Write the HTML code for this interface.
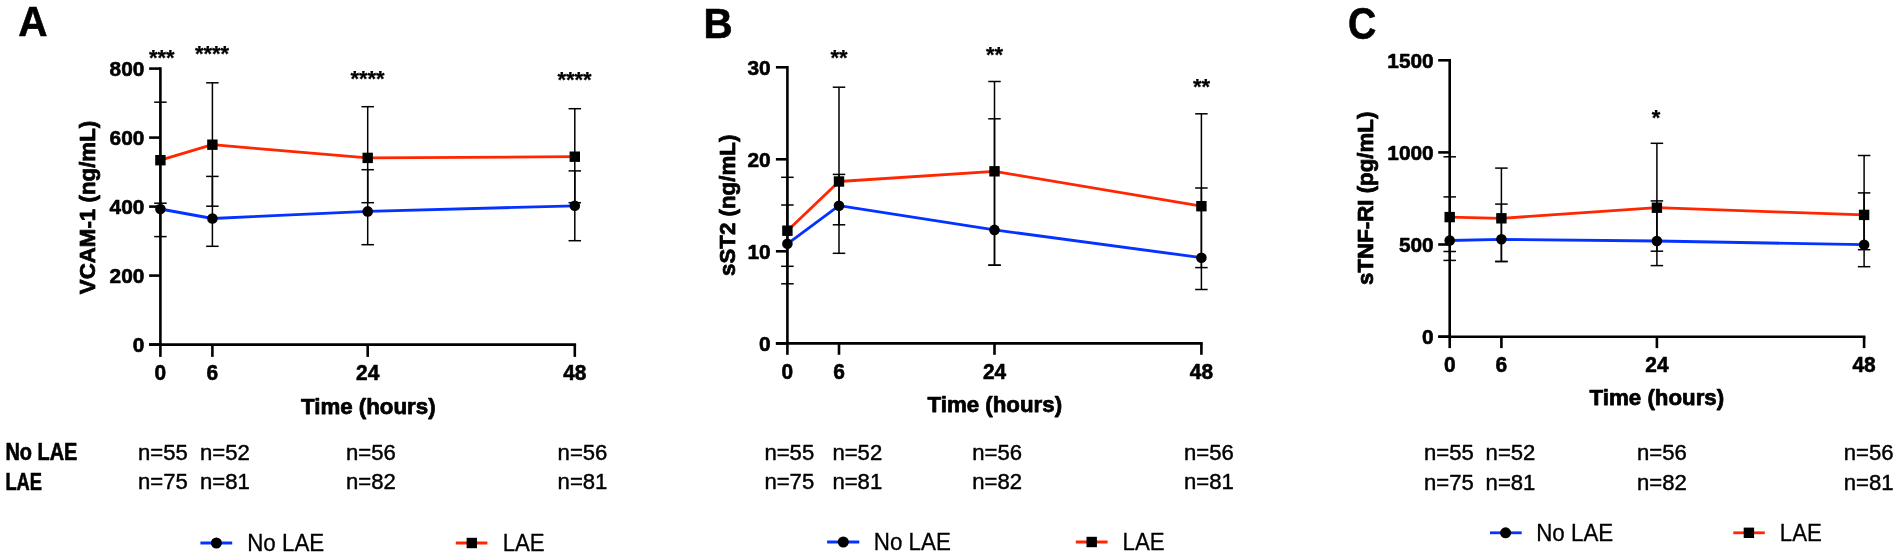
<!DOCTYPE html>
<html lang="en"><head><meta charset="utf-8"><title>Figure</title>
<style>
html,body{margin:0;padding:0;background:#fff;}
body{width:1900px;height:555px;overflow:hidden;}
svg{display:block;filter:blur(0.4px);}
text{font-family:"Liberation Sans",Arial,Helvetica,sans-serif;fill:#000;}
.b{font-weight:bold;}
.tk,.pl,.rl{stroke:#000;stroke-width:0.6px;stroke-linejoin:round;}
.tt{stroke:#000;stroke-width:0.75px;stroke-linejoin:round;}
.st{stroke:#000;stroke-width:0.25px;}
.n{stroke:#000;stroke-width:0.45px;stroke-linejoin:round;}
.lg{stroke:#000;stroke-width:0.3px;stroke-linejoin:round;}
.tk{font-weight:bold;font-size:20.8px;}
.tt{font-weight:bold;font-size:22.3px;}
.st{font-weight:bold;font-size:22px;}
.pl{font-weight:bold;font-size:42px;}
.n{font-size:22.5px;}
.rl{font-weight:bold;font-size:23px;}
.lg{font-size:23px;}
</style></head><body>
<svg width="1900" height="555" viewBox="0 0 1900 555">
<rect x="0" y="0" width="1900" height="555" fill="#fff"/>
<g>
<text class="pl" x="18.2" y="36.3" style="font-size:42px" textLength="29.3" lengthAdjust="spacingAndGlyphs">A</text>
<line x1="160.4" y1="102.2" x2="160.4" y2="203.2" stroke="#000" stroke-width="1.5"/>
<line x1="154.15" y1="102.2" x2="166.65" y2="102.2" stroke="#000" stroke-width="1.5"/>
<line x1="154.15" y1="203.2" x2="166.65" y2="203.2" stroke="#000" stroke-width="1.5"/>
<line x1="160.4" y1="209" x2="160.4" y2="236.6" stroke="#000" stroke-width="1.5"/>
<line x1="154.15" y1="236.6" x2="166.65" y2="236.6" stroke="#000" stroke-width="1.5"/>
<line x1="212.4" y1="82.8" x2="212.4" y2="206.2" stroke="#000" stroke-width="1.5"/>
<line x1="206.15" y1="82.8" x2="218.65" y2="82.8" stroke="#000" stroke-width="1.5"/>
<line x1="206.15" y1="206.2" x2="218.65" y2="206.2" stroke="#000" stroke-width="1.5"/>
<line x1="212.4" y1="176.4" x2="212.4" y2="246.3" stroke="#000" stroke-width="1.5"/>
<line x1="206.15" y1="176.4" x2="218.65" y2="176.4" stroke="#000" stroke-width="1.5"/>
<line x1="206.15" y1="246.3" x2="218.65" y2="246.3" stroke="#000" stroke-width="1.5"/>
<line x1="367.7" y1="106.7" x2="367.7" y2="202.7" stroke="#000" stroke-width="1.5"/>
<line x1="361.45" y1="106.7" x2="373.95" y2="106.7" stroke="#000" stroke-width="1.5"/>
<line x1="361.45" y1="202.7" x2="373.95" y2="202.7" stroke="#000" stroke-width="1.5"/>
<line x1="367.7" y1="169.7" x2="367.7" y2="244.7" stroke="#000" stroke-width="1.5"/>
<line x1="361.45" y1="169.7" x2="373.95" y2="169.7" stroke="#000" stroke-width="1.5"/>
<line x1="361.45" y1="244.7" x2="373.95" y2="244.7" stroke="#000" stroke-width="1.5"/>
<line x1="574.8" y1="108.7" x2="574.8" y2="202.7" stroke="#000" stroke-width="1.5"/>
<line x1="568.55" y1="108.7" x2="581.05" y2="108.7" stroke="#000" stroke-width="1.5"/>
<line x1="568.55" y1="202.7" x2="581.05" y2="202.7" stroke="#000" stroke-width="1.5"/>
<line x1="574.8" y1="170.9" x2="574.8" y2="240.7" stroke="#000" stroke-width="1.5"/>
<line x1="568.55" y1="170.9" x2="581.05" y2="170.9" stroke="#000" stroke-width="1.5"/>
<line x1="568.55" y1="240.7" x2="581.05" y2="240.7" stroke="#000" stroke-width="1.5"/>
<line x1="160.4" y1="67.3" x2="160.4" y2="344.6" stroke="#000" stroke-width="2.6"/>
<line x1="149.1" y1="344.6" x2="576.1" y2="344.6" stroke="#000" stroke-width="2.6"/>
<line x1="149.1" y1="68.6" x2="160.4" y2="68.6" stroke="#000" stroke-width="2.6"/>
<text class="tk" text-anchor="end" x="144.3" y="75.8">800</text>
<line x1="149.1" y1="137.6" x2="160.4" y2="137.6" stroke="#000" stroke-width="2.6"/>
<text class="tk" text-anchor="end" x="144.3" y="144.8">600</text>
<line x1="149.1" y1="206.6" x2="160.4" y2="206.6" stroke="#000" stroke-width="2.6"/>
<text class="tk" text-anchor="end" x="144.3" y="213.8">400</text>
<line x1="149.1" y1="275.6" x2="160.4" y2="275.6" stroke="#000" stroke-width="2.6"/>
<text class="tk" text-anchor="end" x="144.3" y="282.8">200</text>
<line x1="149.1" y1="344.6" x2="160.4" y2="344.6" stroke="#000" stroke-width="2.6"/>
<text class="tk" text-anchor="end" x="144.3" y="351.8">0</text>
<line x1="160.4" y1="344.6" x2="160.4" y2="356.9" stroke="#000" stroke-width="2.6"/>
<text class="tk" text-anchor="middle" style="font-size:22px" transform="translate(160.4 380.2) scale(0.95 1)">0</text>
<line x1="212.4" y1="344.6" x2="212.4" y2="356.9" stroke="#000" stroke-width="2.6"/>
<text class="tk" text-anchor="middle" style="font-size:22px" transform="translate(212.4 380.2) scale(0.95 1)">6</text>
<line x1="367.7" y1="344.6" x2="367.7" y2="356.9" stroke="#000" stroke-width="2.6"/>
<text class="tk" text-anchor="middle" style="font-size:22px" transform="translate(367.7 380.2) scale(0.95 1)">24</text>
<line x1="574.8" y1="344.6" x2="574.8" y2="356.9" stroke="#000" stroke-width="2.6"/>
<text class="tk" text-anchor="middle" style="font-size:22px" transform="translate(574.8 380.2) scale(0.95 1)">48</text>
<polyline points="160.4,209 212.4,218.5 367.7,211.4 574.8,205.8" fill="none" stroke="#0433ff" stroke-width="2.8" stroke-linejoin="round"/>
<polyline points="160.4,160.2 212.4,144.7 367.7,157.9 574.8,156.7" fill="none" stroke="#ff2600" stroke-width="2.8" stroke-linejoin="round"/>
<circle cx="160.4" cy="209" r="5.3" fill="#000"/>
<rect x="155.2" y="155" width="10.4" height="10.4" fill="#000"/>
<circle cx="212.4" cy="218.5" r="5.3" fill="#000"/>
<rect x="207.2" y="139.5" width="10.4" height="10.4" fill="#000"/>
<circle cx="367.7" cy="211.4" r="5.3" fill="#000"/>
<rect x="362.5" y="152.7" width="10.4" height="10.4" fill="#000"/>
<circle cx="574.8" cy="205.8" r="5.3" fill="#000"/>
<rect x="569.6" y="151.5" width="10.4" height="10.4" fill="#000"/>
<text class="st" text-anchor="middle" x="161.8" y="64.7">***</text>
<text class="st" text-anchor="middle" x="212" y="60.7">****</text>
<text class="st" text-anchor="middle" x="367.5" y="85.7">****</text>
<text class="st" text-anchor="middle" x="574.5" y="87.4">****</text>
<text class="tt" text-anchor="middle" transform="translate(95.2 207.5) rotate(-90)">VCAM-1 (ng/mL)</text>
<text class="tt" text-anchor="middle" x="368.3" y="414">Time (hours)</text>
<text class="n" x="138" y="459.9" textLength="49.8" lengthAdjust="spacingAndGlyphs">n=55</text>
<text class="n" x="200" y="459.9" textLength="49.8" lengthAdjust="spacingAndGlyphs">n=52</text>
<text class="n" x="346" y="459.9" textLength="49.8" lengthAdjust="spacingAndGlyphs">n=56</text>
<text class="n" x="557.6" y="459.9" textLength="49.8" lengthAdjust="spacingAndGlyphs">n=56</text>
<text class="n" x="138" y="489.4" textLength="49.8" lengthAdjust="spacingAndGlyphs">n=75</text>
<text class="n" x="200" y="489.4" textLength="49.8" lengthAdjust="spacingAndGlyphs">n=81</text>
<text class="n" x="346" y="489.4" textLength="49.8" lengthAdjust="spacingAndGlyphs">n=82</text>
<text class="n" x="557.6" y="489.4" textLength="49.8" lengthAdjust="spacingAndGlyphs">n=81</text>
<text class="rl" x="5.4" y="460" textLength="72" lengthAdjust="spacingAndGlyphs">No LAE</text>
<text class="rl" x="5.4" y="489.8" textLength="36.6" lengthAdjust="spacingAndGlyphs">LAE</text>
<line x1="200.4" y1="543" x2="232.2" y2="543" stroke="#0433ff" stroke-width="2.8"/>
<circle cx="216.4" cy="543" r="5.5" fill="#000"/>
<text class="lg" x="247.2" y="550.9" textLength="77" lengthAdjust="spacingAndGlyphs">No LAE</text>
<line x1="455.8" y1="543" x2="487.4" y2="543" stroke="#ff2600" stroke-width="2.8"/>
<rect x="466.6" y="537.8" width="10.4" height="10.4" fill="#000"/>
<text class="lg" x="502.7" y="550.9" textLength="42" lengthAdjust="spacingAndGlyphs">LAE</text>
</g>
<g>
<text class="pl" x="703.6" y="38.4" style="font-size:42px" textLength="29.1" lengthAdjust="spacingAndGlyphs">B</text>
<line x1="787.4" y1="177.3" x2="787.4" y2="266.3" stroke="#000" stroke-width="1.5"/>
<line x1="781.15" y1="177.3" x2="793.65" y2="177.3" stroke="#000" stroke-width="1.5"/>
<line x1="781.15" y1="266.3" x2="793.65" y2="266.3" stroke="#000" stroke-width="1.5"/>
<line x1="787.4" y1="205" x2="787.4" y2="283.8" stroke="#000" stroke-width="1.5"/>
<line x1="781.15" y1="205" x2="793.65" y2="205" stroke="#000" stroke-width="1.5"/>
<line x1="781.15" y1="283.8" x2="793.65" y2="283.8" stroke="#000" stroke-width="1.5"/>
<line x1="839" y1="87.2" x2="839" y2="224.8" stroke="#000" stroke-width="1.5"/>
<line x1="832.75" y1="87.2" x2="845.25" y2="87.2" stroke="#000" stroke-width="1.5"/>
<line x1="832.75" y1="224.8" x2="845.25" y2="224.8" stroke="#000" stroke-width="1.5"/>
<line x1="839" y1="174.4" x2="839" y2="253.3" stroke="#000" stroke-width="1.5"/>
<line x1="832.75" y1="174.4" x2="845.25" y2="174.4" stroke="#000" stroke-width="1.5"/>
<line x1="832.75" y1="253.3" x2="845.25" y2="253.3" stroke="#000" stroke-width="1.5"/>
<line x1="994.5" y1="81.5" x2="994.5" y2="265.2" stroke="#000" stroke-width="1.5"/>
<line x1="988.25" y1="81.5" x2="1000.75" y2="81.5" stroke="#000" stroke-width="1.5"/>
<line x1="988.25" y1="265.2" x2="1000.75" y2="265.2" stroke="#000" stroke-width="1.5"/>
<line x1="994.5" y1="118.8" x2="994.5" y2="265.2" stroke="#000" stroke-width="1.5"/>
<line x1="988.25" y1="118.8" x2="1000.75" y2="118.8" stroke="#000" stroke-width="1.5"/>
<line x1="988.25" y1="265.2" x2="1000.75" y2="265.2" stroke="#000" stroke-width="1.5"/>
<line x1="1201.4" y1="113.8" x2="1201.4" y2="267.6" stroke="#000" stroke-width="1.5"/>
<line x1="1195.15" y1="113.8" x2="1207.65" y2="113.8" stroke="#000" stroke-width="1.5"/>
<line x1="1195.15" y1="267.6" x2="1207.65" y2="267.6" stroke="#000" stroke-width="1.5"/>
<line x1="1201.4" y1="188" x2="1201.4" y2="289.5" stroke="#000" stroke-width="1.5"/>
<line x1="1195.15" y1="188" x2="1207.65" y2="188" stroke="#000" stroke-width="1.5"/>
<line x1="1195.15" y1="289.5" x2="1207.65" y2="289.5" stroke="#000" stroke-width="1.5"/>
<line x1="787.4" y1="66" x2="787.4" y2="343.4" stroke="#000" stroke-width="2.6"/>
<line x1="775.9" y1="343.4" x2="1202.7" y2="343.4" stroke="#000" stroke-width="2.6"/>
<line x1="775.9" y1="67.3" x2="787.4" y2="67.3" stroke="#000" stroke-width="2.6"/>
<text class="tk" text-anchor="end" x="770.6" y="74.5">30</text>
<line x1="775.9" y1="159.3" x2="787.4" y2="159.3" stroke="#000" stroke-width="2.6"/>
<text class="tk" text-anchor="end" x="770.6" y="166.5">20</text>
<line x1="775.9" y1="251.3" x2="787.4" y2="251.3" stroke="#000" stroke-width="2.6"/>
<text class="tk" text-anchor="end" x="770.6" y="258.5">10</text>
<line x1="775.9" y1="343.4" x2="787.4" y2="343.4" stroke="#000" stroke-width="2.6"/>
<text class="tk" text-anchor="end" x="770.6" y="350.6">0</text>
<line x1="787.4" y1="343.4" x2="787.4" y2="354.8" stroke="#000" stroke-width="2.6"/>
<text class="tk" text-anchor="middle" style="font-size:22px" transform="translate(787.4 379.2) scale(0.95 1)">0</text>
<line x1="839" y1="343.4" x2="839" y2="354.8" stroke="#000" stroke-width="2.6"/>
<text class="tk" text-anchor="middle" style="font-size:22px" transform="translate(839 379.2) scale(0.95 1)">6</text>
<line x1="994.5" y1="343.4" x2="994.5" y2="354.8" stroke="#000" stroke-width="2.6"/>
<text class="tk" text-anchor="middle" style="font-size:22px" transform="translate(994.5 379.2) scale(0.95 1)">24</text>
<line x1="1201.4" y1="343.4" x2="1201.4" y2="354.8" stroke="#000" stroke-width="2.6"/>
<text class="tk" text-anchor="middle" style="font-size:22px" transform="translate(1201.4 379.2) scale(0.95 1)">48</text>
<polyline points="787.4,243.8 839,205.7 994.5,229.9 1201.4,257.7" fill="none" stroke="#0433ff" stroke-width="2.8" stroke-linejoin="round"/>
<polyline points="787.4,230.7 839,181.5 994.5,171.3 1201.4,206.2" fill="none" stroke="#ff2600" stroke-width="2.8" stroke-linejoin="round"/>
<circle cx="787.4" cy="243.8" r="5.3" fill="#000"/>
<rect x="782.2" y="225.5" width="10.4" height="10.4" fill="#000"/>
<circle cx="839" cy="205.7" r="5.3" fill="#000"/>
<rect x="833.8" y="176.3" width="10.4" height="10.4" fill="#000"/>
<circle cx="994.5" cy="229.9" r="5.3" fill="#000"/>
<rect x="989.3" y="166.1" width="10.4" height="10.4" fill="#000"/>
<circle cx="1201.4" cy="257.7" r="5.3" fill="#000"/>
<rect x="1196.2" y="201" width="10.4" height="10.4" fill="#000"/>
<text class="st" text-anchor="middle" x="839" y="64.8">**</text>
<text class="st" text-anchor="middle" x="994.5" y="62.3">**</text>
<text class="st" text-anchor="middle" x="1201.5" y="93.8">**</text>
<text class="tt" text-anchor="middle" transform="translate(735.2 205.3) rotate(-90)">sST2 (ng/mL)</text>
<text class="tt" text-anchor="middle" x="994.8" y="411.5">Time (hours)</text>
<text class="n" x="764.4" y="459.9" textLength="49.8" lengthAdjust="spacingAndGlyphs">n=55</text>
<text class="n" x="832.4" y="459.9" textLength="49.8" lengthAdjust="spacingAndGlyphs">n=52</text>
<text class="n" x="972.2" y="459.9" textLength="49.8" lengthAdjust="spacingAndGlyphs">n=56</text>
<text class="n" x="1184" y="459.9" textLength="49.8" lengthAdjust="spacingAndGlyphs">n=56</text>
<text class="n" x="764.4" y="489.4" textLength="49.8" lengthAdjust="spacingAndGlyphs">n=75</text>
<text class="n" x="832.4" y="489.4" textLength="49.8" lengthAdjust="spacingAndGlyphs">n=81</text>
<text class="n" x="972.2" y="489.4" textLength="49.8" lengthAdjust="spacingAndGlyphs">n=82</text>
<text class="n" x="1184" y="489.4" textLength="49.8" lengthAdjust="spacingAndGlyphs">n=81</text>
<line x1="827.1" y1="542" x2="859.3" y2="542" stroke="#0433ff" stroke-width="2.8"/>
<circle cx="843.3" cy="542" r="5.5" fill="#000"/>
<text class="lg" x="873.8" y="550" textLength="77" lengthAdjust="spacingAndGlyphs">No LAE</text>
<line x1="1075.8" y1="542" x2="1107.6" y2="542" stroke="#ff2600" stroke-width="2.8"/>
<rect x="1086.5" y="536.8" width="10.4" height="10.4" fill="#000"/>
<text class="lg" x="1122.6" y="550" textLength="42" lengthAdjust="spacingAndGlyphs">LAE</text>
</g>
<g>
<text class="pl" x="1347.9" y="38.9" style="font-size:43.5px" textLength="28.3" lengthAdjust="spacingAndGlyphs">C</text>
<line x1="1449.7" y1="156.8" x2="1449.7" y2="260.4" stroke="#000" stroke-width="1.5"/>
<line x1="1443.45" y1="156.8" x2="1455.95" y2="156.8" stroke="#000" stroke-width="1.5"/>
<line x1="1443.45" y1="260.4" x2="1455.95" y2="260.4" stroke="#000" stroke-width="1.5"/>
<line x1="1449.7" y1="196.9" x2="1449.7" y2="251.5" stroke="#000" stroke-width="1.5"/>
<line x1="1443.45" y1="196.9" x2="1455.95" y2="196.9" stroke="#000" stroke-width="1.5"/>
<line x1="1443.45" y1="251.5" x2="1455.95" y2="251.5" stroke="#000" stroke-width="1.5"/>
<line x1="1501.4" y1="168.1" x2="1501.4" y2="261.5" stroke="#000" stroke-width="1.5"/>
<line x1="1495.15" y1="168.1" x2="1507.65" y2="168.1" stroke="#000" stroke-width="1.5"/>
<line x1="1495.15" y1="261.5" x2="1507.65" y2="261.5" stroke="#000" stroke-width="1.5"/>
<line x1="1501.4" y1="204.1" x2="1501.4" y2="261.5" stroke="#000" stroke-width="1.5"/>
<line x1="1495.15" y1="204.1" x2="1507.65" y2="204.1" stroke="#000" stroke-width="1.5"/>
<line x1="1495.15" y1="261.5" x2="1507.65" y2="261.5" stroke="#000" stroke-width="1.5"/>
<line x1="1656.9" y1="143.3" x2="1656.9" y2="265.6" stroke="#000" stroke-width="1.5"/>
<line x1="1650.65" y1="143.3" x2="1663.15" y2="143.3" stroke="#000" stroke-width="1.5"/>
<line x1="1650.65" y1="265.6" x2="1663.15" y2="265.6" stroke="#000" stroke-width="1.5"/>
<line x1="1656.9" y1="200.9" x2="1656.9" y2="251.2" stroke="#000" stroke-width="1.5"/>
<line x1="1650.65" y1="200.9" x2="1663.15" y2="200.9" stroke="#000" stroke-width="1.5"/>
<line x1="1650.65" y1="251.2" x2="1663.15" y2="251.2" stroke="#000" stroke-width="1.5"/>
<line x1="1864.1" y1="155.5" x2="1864.1" y2="266.7" stroke="#000" stroke-width="1.5"/>
<line x1="1857.85" y1="155.5" x2="1870.35" y2="155.5" stroke="#000" stroke-width="1.5"/>
<line x1="1857.85" y1="266.7" x2="1870.35" y2="266.7" stroke="#000" stroke-width="1.5"/>
<line x1="1864.1" y1="192.9" x2="1864.1" y2="249.7" stroke="#000" stroke-width="1.5"/>
<line x1="1857.85" y1="192.9" x2="1870.35" y2="192.9" stroke="#000" stroke-width="1.5"/>
<line x1="1857.85" y1="249.7" x2="1870.35" y2="249.7" stroke="#000" stroke-width="1.5"/>
<line x1="1449.7" y1="59" x2="1449.7" y2="336.7" stroke="#000" stroke-width="2.6"/>
<line x1="1438.2" y1="336.7" x2="1865.4" y2="336.7" stroke="#000" stroke-width="2.6"/>
<line x1="1438.2" y1="60.3" x2="1449.7" y2="60.3" stroke="#000" stroke-width="2.6"/>
<text class="tk" text-anchor="end" x="1433.6" y="67.5">1500</text>
<line x1="1438.2" y1="152.4" x2="1449.7" y2="152.4" stroke="#000" stroke-width="2.6"/>
<text class="tk" text-anchor="end" x="1433.6" y="159.6">1000</text>
<line x1="1438.2" y1="244.5" x2="1449.7" y2="244.5" stroke="#000" stroke-width="2.6"/>
<text class="tk" text-anchor="end" x="1433.6" y="251.7">500</text>
<line x1="1438.2" y1="336.7" x2="1449.7" y2="336.7" stroke="#000" stroke-width="2.6"/>
<text class="tk" text-anchor="end" x="1433.6" y="343.9">0</text>
<line x1="1449.7" y1="336.7" x2="1449.7" y2="348.1" stroke="#000" stroke-width="2.6"/>
<text class="tk" text-anchor="middle" style="font-size:22px" transform="translate(1449.7 371.8) scale(0.95 1)">0</text>
<line x1="1501.4" y1="336.7" x2="1501.4" y2="348.1" stroke="#000" stroke-width="2.6"/>
<text class="tk" text-anchor="middle" style="font-size:22px" transform="translate(1501.4 371.8) scale(0.95 1)">6</text>
<line x1="1656.9" y1="336.7" x2="1656.9" y2="348.1" stroke="#000" stroke-width="2.6"/>
<text class="tk" text-anchor="middle" style="font-size:22px" transform="translate(1656.9 371.8) scale(0.95 1)">24</text>
<line x1="1864.1" y1="336.7" x2="1864.1" y2="348.1" stroke="#000" stroke-width="2.6"/>
<text class="tk" text-anchor="middle" style="font-size:22px" transform="translate(1864.1 371.8) scale(0.95 1)">48</text>
<polyline points="1449.7,240.5 1501.4,239.3 1656.9,241 1864.1,244.7" fill="none" stroke="#0433ff" stroke-width="2.8" stroke-linejoin="round"/>
<polyline points="1449.7,217.1 1501.4,218.3 1656.9,207.7 1864.1,214.9" fill="none" stroke="#ff2600" stroke-width="2.8" stroke-linejoin="round"/>
<circle cx="1449.7" cy="240.5" r="5.3" fill="#000"/>
<rect x="1444.5" y="211.9" width="10.4" height="10.4" fill="#000"/>
<circle cx="1501.4" cy="239.3" r="5.3" fill="#000"/>
<rect x="1496.2" y="213.1" width="10.4" height="10.4" fill="#000"/>
<circle cx="1656.9" cy="241" r="5.3" fill="#000"/>
<rect x="1651.7" y="202.5" width="10.4" height="10.4" fill="#000"/>
<circle cx="1864.1" cy="244.7" r="5.3" fill="#000"/>
<rect x="1858.9" y="209.7" width="10.4" height="10.4" fill="#000"/>
<text class="st" text-anchor="middle" x="1656.1" y="124.9">*</text>
<text class="tt" text-anchor="middle" transform="translate(1373 198.3) rotate(-90)">sTNF-RI (pg/mL)</text>
<text class="tt" text-anchor="middle" x="1656.9" y="405.4">Time (hours)</text>
<text class="n" x="1424" y="460" textLength="49.8" lengthAdjust="spacingAndGlyphs">n=55</text>
<text class="n" x="1485.6" y="460" textLength="49.8" lengthAdjust="spacingAndGlyphs">n=52</text>
<text class="n" x="1637" y="460" textLength="49.8" lengthAdjust="spacingAndGlyphs">n=56</text>
<text class="n" x="1843.8" y="460" textLength="49.8" lengthAdjust="spacingAndGlyphs">n=56</text>
<text class="n" x="1424" y="490" textLength="49.8" lengthAdjust="spacingAndGlyphs">n=75</text>
<text class="n" x="1485.6" y="490" textLength="49.8" lengthAdjust="spacingAndGlyphs">n=81</text>
<text class="n" x="1637" y="490" textLength="49.8" lengthAdjust="spacingAndGlyphs">n=82</text>
<text class="n" x="1843.8" y="490" textLength="49.8" lengthAdjust="spacingAndGlyphs">n=81</text>
<line x1="1490" y1="532.8" x2="1521.7" y2="532.8" stroke="#0433ff" stroke-width="2.8"/>
<circle cx="1505.6" cy="532.8" r="5.5" fill="#000"/>
<text class="lg" x="1536.2" y="540.8" textLength="77" lengthAdjust="spacingAndGlyphs">No LAE</text>
<line x1="1733.3" y1="532.8" x2="1764.8" y2="532.8" stroke="#ff2600" stroke-width="2.8"/>
<rect x="1743.7" y="527.6" width="10.4" height="10.4" fill="#000"/>
<text class="lg" x="1779.8" y="540.8" textLength="42" lengthAdjust="spacingAndGlyphs">LAE</text>
</g>
</svg>
</body></html>
